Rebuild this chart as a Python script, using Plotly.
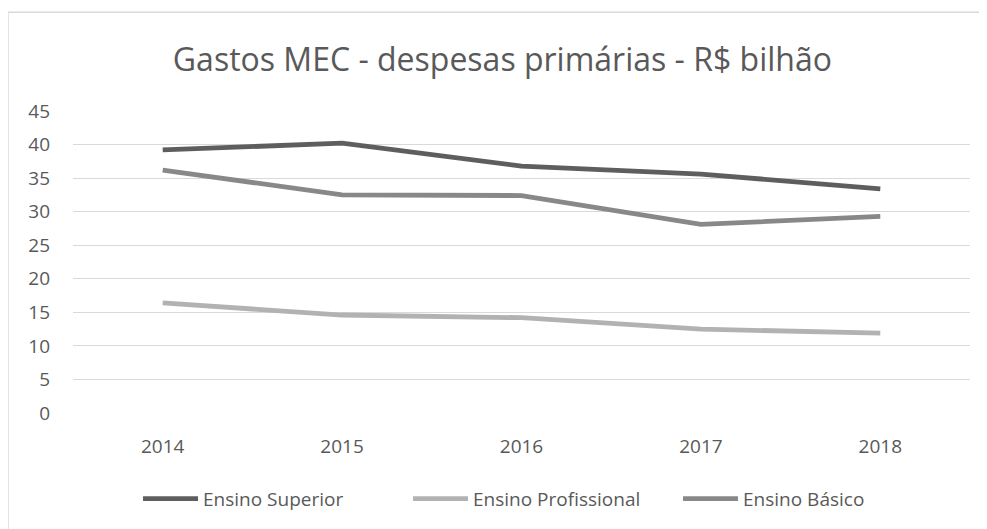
import plotly.graph_objects as go

# dados (R$ bilhão)
anos = ["2014", "2015", "2016", "2017", "2018"]
ensino_superior = [39.2, 40.2, 36.8, 35.6, 33.4]
ensino_profissional = [16.4, 14.6, 14.2, 12.5, 11.9]
ensino_basico = [36.2, 32.5, 32.4, 28.1, 29.3]

fig = go.Figure()

fig.add_trace(go.Scatter(
    x=anos, y=ensino_superior, mode="lines", name="Ensino Superior",
    line=dict(color="#5e5e5e", width=4.8)
))
fig.add_trace(go.Scatter(
    x=anos, y=ensino_profissional, mode="lines", name="Ensino Profissional",
    line=dict(color="#b2b2b2", width=4.8)
))
fig.add_trace(go.Scatter(
    x=anos, y=ensino_basico, mode="lines", name="Ensino Básico",
    line=dict(color="#888888", width=4.8)
))

# a página tem 8px de margem no body, por isso a figura é um pouco menor
fig.update_layout(
    width=979, height=521,
    margin=dict(l=65, r=17, t=103, b=115),
    paper_bgcolor="white", plot_bgcolor="white",
    font=dict(family="Open Sans", color="#595959", size=19),
    title=dict(text="Gastos MEC - despesas primárias - R$ bilhão",
               x=0.505, xanchor="center", y=0.9, yanchor="middle",
               font=dict(size=32, color="#595959")),
    xaxis=dict(type="category", range=[-0.5, 4.5], showgrid=False,
               showline=False, ticks="", tickfont=dict(size=19),
               automargin=False, ticklabelstandoff=20),
    yaxis=dict(range=[0, 45], dtick=5, showgrid=True, gridcolor="#d9d9d9",
               gridwidth=1.3, zeroline=False, showline=False, ticks="",
               tickfont=dict(size=19), automargin=False,
               ticklabelstandoff=22),
    legend=dict(orientation="h", x=0.524, xanchor="center", y=-0.28,
                yanchor="middle", font=dict(size=19, color="#595959"),
                itemwidth=55, entrywidth=200),
    # moldura: só as bordas de cima e da esquerda aparecem
    shapes=[
        dict(type="line", xref="paper", yref="paper",
             x0=-0.0725, x1=1.1, y0=1.327, y1=1.327,
             line=dict(color="#d9d9d9", width=1.5)),
        dict(type="line", xref="paper", yref="paper",
             x0=-0.0725, x1=-0.0725, y0=-0.5, y1=1.327,
             line=dict(color="#d9d9d9", width=1.5)),
    ],
)

fig.write_html("out.html")
